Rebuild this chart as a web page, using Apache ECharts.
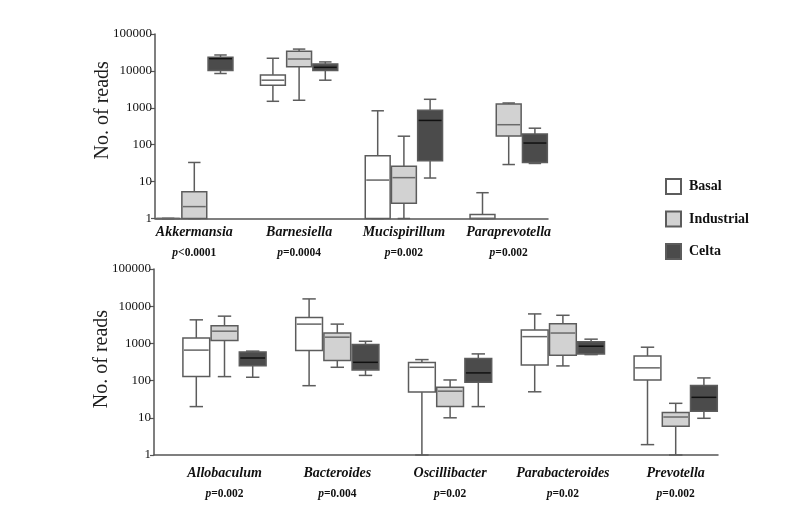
<!DOCTYPE html>
<html>
<head>
<meta charset="utf-8">
<script src="https://cdn.jsdelivr.net/npm/echarts@6/dist/echarts.min.js"></script>
<style>
html,body{margin:0;padding:0;background:#fff;}
#chart{width:801px;height:509px;}
</style>
</head>
<body>
<div id="chart"></div>
<script>
// ---- data: [min, q1, median, q3, max] per genus ----
var topGenera = ['Akkermansia', 'Barnesiella', 'Mucispirillum', 'Paraprevotella'];
var topP = ['<0.0001', '=0.0004', '=0.002', '=0.002'];
var topBasal = [
  [1, 1, 1, 1, 1],
  [1500, 4100, 5600, 7800, 22000],
  [1, 1, 11, 50, 830],
  [1, 1, 1, 1.28, 5]
];
var topIndustrial = [
  [1, 1, 2.1, 5.3, 33],
  [1600, 13000, 21000, 34000, 39000],
  [1, 2.6, 12.8, 26, 170],
  [29, 171, 348, 1260, 1350]
];
var topCelta = [
  [8500, 10300, 21500, 23500, 27000],
  [5600, 10200, 12500, 15500, 17500],
  [12.5, 37, 455, 860, 1700],
  [31, 33, 111, 195, 280]
];

var botGenera = ['Allobaculum', 'Bacteroides', 'Oscillibacter', 'Parabacteroides', 'Prevotella'];
var botP = ['=0.002', '=0.004', '=0.02', '=0.02', '=0.002'];
var botBasal = [
  [20, 128, 660, 1400, 4300],
  [73, 640, 3300, 5000, 15700],
  [1, 49, 228, 305, 367],
  [50, 264, 1520, 2300, 6200],
  [1.9, 104, 220, 460, 790]
];
var botIndustrial = [
  [128, 1200, 2130, 3000, 5400],
  [228, 345, 1470, 1900, 3300],
  [10, 20, 52, 66, 104],
  [248, 480, 1900, 3400, 5700],
  [1, 5.9, 10.5, 13.8, 24.5]
];
var botCelta = [
  [123, 250, 405, 590, 620],
  [138, 194, 310, 930, 1140],
  [20, 90, 161, 390, 522],
  [500, 522, 840, 1100, 1300],
  [9.7, 14.9, 35.5, 74, 118]
];

var yTicks = [1, 10, 100, 1000, 10000, 100000];
var groups = ['Basal', 'Industrial', 'Celta'];
var fills = ['#ffffff', '#d2d2d2', '#4b4b4b'];
var medianColors = ['#666666', '#6a6a6a', '#111111'];
var SERIF = '"Liberation Serif", "DejaVu Serif", serif';

// build slot categories: each genus -> 3 box slots + 1 gap slot
function buildSlots(genera, lead) {
  var n = lead + genera.length * 4 - 1;
  var cats = [];
  for (var i = 0; i < n; i++) cats.push('s' + i);
  return cats;
}
function labelMap(genera, pvals, lead) {
  var m = {};
  genera.forEach(function (g, i) { m[lead + i * 4 + 1] = [g, pvals[i]]; });
  return m;
}
function seriesData(arr, k, lead) {
  return arr.map(function (d, g) {
    return [lead + g * 4 + k].concat(d);
  });
}

function makeRender(k) {
  return function (params, api) {
    var slot = api.value(0);
    var v = [api.value(1), api.value(2), api.value(3), api.value(4), api.value(5)];
    var p = v.map(function (x) { return api.coord([slot, x]); });
    var cx = p[0][0];
    var band = api.size([1, 1])[0];
    var bw = band * 0.95;
    var cw = bw * 0.5;
    var stroke = '#5c5c5c';
    var lw = 1.5;
    var ln = function (x1, y1, x2, y2, col) {
      return { type: 'line', shape: { x1: x1, y1: y1, x2: x2, y2: y2 },
        style: { stroke: col || stroke, lineWidth: lw } };
    };
    return {
      type: 'group',
      children: [
        ln(cx, p[4][1], cx, p[3][1]),
        ln(cx, p[1][1], cx, p[0][1]),
        ln(cx - cw / 2, p[4][1], cx + cw / 2, p[4][1]),
        ln(cx - cw / 2, p[0][1], cx + cw / 2, p[0][1]),
        { type: 'rect', shape: { x: cx - bw / 2, y: p[3][1], width: bw, height: p[1][1] - p[3][1] },
          style: { fill: fills[k], stroke: stroke, lineWidth: lw } },
        ln(cx - bw / 2 + 1, p[2][1], cx + bw / 2 - 1, p[2][1], medianColors[k])
      ]
    };
  };
}

var topLead = 0, botLead = 1;
var topLabels = labelMap(topGenera, topP, topLead);
var botLabels = labelMap(botGenera, botP, botLead);

function xAxisCfg(gridIndex, cats, labels, margin, lh1, lh2) {
  return {
    type: 'category', gridIndex: gridIndex, data: cats, boundaryGap: true,
    axisLine: { lineStyle: { color: '#555', width: 1.5 } },
    axisTick: { show: false },
    axisLabel: {
      interval: 0, margin: margin, color: '#1a1a1a', hideOverlap: false,
      formatter: function (val, idx) {
        var l = labels[idx];
        if (!l) return '';
        return '{g|' + l[0] + '}\n{p|p}{v|' + l[1] + '}';
      },
      rich: {
        g: { fontFamily: SERIF, fontStyle: 'italic', fontWeight: 'bold', fontSize: 14, lineHeight: lh1, color: '#111' },
        p: { fontFamily: SERIF, fontStyle: 'italic', fontWeight: 'bold', fontSize: 11.5, lineHeight: lh2, color: '#111' },
        v: { fontFamily: SERIF, fontWeight: 'bold', fontSize: 11.5, lineHeight: lh2, color: '#111' }
      }
    }
  };
}
function yAxisCfg(gridIndex, shift) {
  return {
    type: 'log', logBase: 10, gridIndex: gridIndex, min: yTicks[0], max: yTicks[yTicks.length - 1],
    name: 'No. of reads', nameLocation: 'middle', nameGap: 42, nameRotate: 90,
    nameMoveOverlap: false,
    nameTextStyle: { fontFamily: SERIF, fontSize: 20, color: '#1e1e1e',
      padding: shift > 0 ? [0, 0, 0, shift] : [0, -shift, 0, 0] },
    axisLine: { show: true, lineStyle: { color: '#555', width: 1.5 } },
    axisTick: { show: true, length: 4, lineStyle: { color: '#555', width: 1.2 } },
    minorTick: { show: false },
    splitLine: { show: false },
    axisLabel: {
      margin: 3, fontFamily: SERIF, fontSize: 13, color: '#111',
      formatter: function (v) { return String(Math.round(v)); }
    }
  };
}

var series = [];
[[topBasal, topIndustrial, topCelta, topLead, 0], [botBasal, botIndustrial, botCelta, botLead, 1]].forEach(function (set) {
  for (var k = 0; k < 3; k++) {
    series.push({
      type: 'custom', name: groups[k], xAxisIndex: set[4], yAxisIndex: set[4],
      renderItem: makeRender(k),
      itemStyle: { color: fills[k], borderColor: '#5c5c5c', borderWidth: 1.5 },
      encode: { x: 0, y: [1, 2, 3, 4, 5] },
      data: seriesData(set[k], k, set[3])
    });
  }
});

var chart = echarts.init(document.getElementById('chart'), null, { renderer: 'canvas' });
chart.setOption({
  backgroundColor: '#fff',
  animation: false,
  grid: [
    { left: 155, right: 253, top: 34, bottom: 290.5 },
    { left: 154, right: 83, top: 269, bottom: 54 }
  ],
  xAxis: [
    xAxisCfg(0, buildSlots(topGenera, topLead), topLabels, 4, 20, 21),
    xAxisCfg(1, buildSlots(botGenera, botLead), botLabels, 6, 24, 18)
  ],
  yAxis: [yAxisCfg(0, 32), yAxisCfg(1, 6)],
  legend: {
    orient: 'vertical', left: 660, top: 173,
    itemWidth: 15, itemHeight: 15, itemGap: 15.5, icon: 'rect',
    data: groups,
    selectedMode: false,
    textStyle: { fontFamily: SERIF, fontWeight: 'bold', fontSize: 14, color: '#111', padding: [0, 0, 0, 3] }
  },
  series: series
});
</script>
</body>
</html>
